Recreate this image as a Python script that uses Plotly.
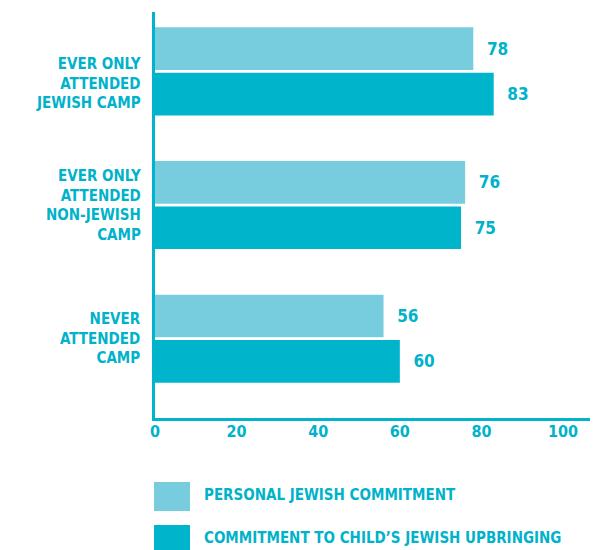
import plotly.graph_objects as go

# Survey groups (top to bottom) and the two commitment measures
categories = ["EVER ONLY<br>ATTENDED<br>JEWISH CAMP",
              "EVER ONLY<br>ATTENDED<br>NON-JEWISH<br>CAMP",
              "NEVER<br>ATTENDED<br>CAMP"]
series_names = ["PERSONAL JEWISH COMMITMENT",
                "COMMITMENT TO CHILD\u2019S JEWISH UPBRINGING"]
personal = [78, 76, 56]
child_upbringing = [83, 75, 60]
x_ticks = [0, 20, 40, 60, 80, 100]

LIGHT = "#77CDDD"
DARK = "#00B4CC"
TEXT = "#00B2CA"
FONT = "Liberation Sans Narrow, DejaVu Sans Condensed, Arial Narrow, sans-serif"

W, H = 605, 550
L, R, T, B = 155, 15, 12, 132
PW, PH = W - L - R, H - T - B


def px_x(p):
    return (p - L) / PW


def px_y(p):
    return (H - B - p) / PH


ids = list(range(len(categories)))

fig = go.Figure()
for name, vals, col in [(series_names[0], personal, LIGHT),
                        (series_names[1], child_upbringing, DARK)]:
    fig.add_trace(go.Bar(
        y=ids, x=vals, orientation="h", name=name,
        marker=dict(color=col, line=dict(width=0)),
        text=vals, texttemplate="\u00a0\u00a0%{x}", textposition="outside",
        outsidetextfont=dict(family=FONT, size=17, color=TEXT, weight="bold"),
        cliponaxis=False, showlegend=False,
    ))

fig.update_layout(
    width=W, height=H,
    margin=dict(l=L, r=R, t=T, b=B),
    paper_bgcolor="white", plot_bgcolor="white",
    barmode="group", bargap=0.321, bargroupgap=0.06,
    xaxis=dict(range=[0, 106.6], tickvals=x_ticks, ticks="", showgrid=False,
               zeroline=False, showline=True, linecolor=DARK, linewidth=3,
               tickfont=dict(family=FONT, size=16, color=TEXT, weight="bold"),
               ticklabelstandoff=-3),
    yaxis=dict(range=[2.593, -0.444], showticklabels=False, ticks="",
               showgrid=False, zeroline=False, showline=True,
               linecolor=DARK, linewidth=3),
    font=dict(family=FONT, color=TEXT),
)

# Group labels to the left of the bars
label_shift = [-12, 0, 0]
for i, lab in enumerate(categories):
    fig.add_annotation(x=px_x(143), xref="paper", y=i, yref="y",
                       text=lab, showarrow=False, xanchor="right", align="right",
                       yshift=label_shift[i],
                       font=dict(family=FONT, size=15, color=TEXT, weight="bold"))

# Legend drawn below the axis: swatch squares with labels
legend_rows = [(482, 511, LIGHT, series_names[0], 495),
               (525, 553, DARK, series_names[1], 538)]
for y0, y1, col, name, yc in legend_rows:
    fig.add_shape(type="rect", xref="paper", yref="paper",
                  x0=px_x(154), x1=px_x(190), y0=px_y(y1), y1=px_y(y0),
                  fillcolor=col, line=dict(width=0))
    fig.add_annotation(x=px_x(202), xref="paper", y=px_y(yc), yref="paper",
                       text=name, showarrow=False, xanchor="left", yanchor="middle",
                       font=dict(family=FONT, size=15, color=TEXT, weight="bold"))

fig.write_html("out.html")
